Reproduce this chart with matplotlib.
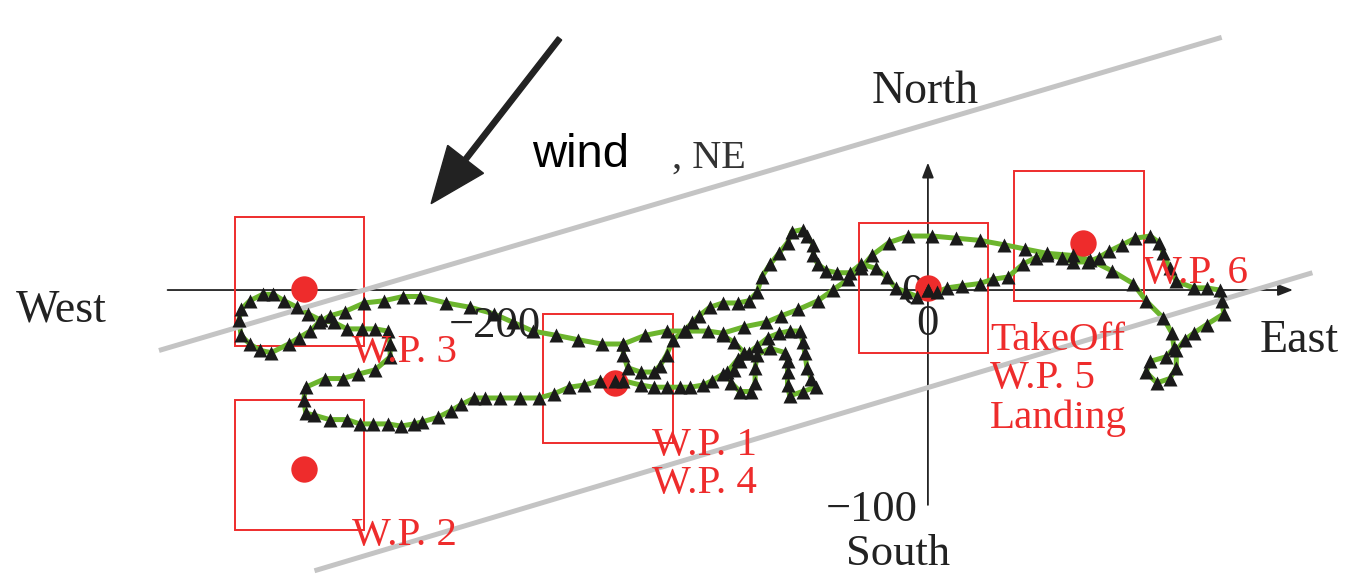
import numpy as np
import matplotlib
matplotlib.use("Agg")
from matplotlib import pyplot as plt
from matplotlib.patches import Rectangle

# flight path (east, north)
takeoff_path = [(0, 0), (-5, -3), (-10, -1), (-15, 1), (-19, 6), (-24, 10), (-31, 12), (-36, 8),
                (-42, 8), (-47, 9), (-51, 12), (-53, 16), (-53, 21), (-56, 25), (-58, 28), (-63, 27),
                (-65, 22), (-69, 17), (-73, 12), (-77, 6), (-79, -1), (-83, -5), (-88, -6), (-95, -6),
                (-101, -8), (-106, -12), (-109, -15), (-113, -19), (-118, -23), (-121, -30),
                (-124, -35), (-127, -38), (-133, -38), (-139, -36), (-141, -30), (-141, -25)]

main_path = [(-95, -21), (-90, -24), (-85, -29), (-88, -32), (-93, -38), (-91, -43), (-87, -47),
             (-82, -47), (-80, -43), (-80, -36), (-79, -30), (-73, -27), (-66, -29), (-65, -33),
             (-65, -38), (-65, -44), (-64, -49), (-58, -47), (-52, -45), (-54, -41), (-56, -36),
             (-57, -29), (-58, -24), (-59, -19), (-64, -19), (-69, -20), (-74, -22), (-79, -26),
             (-83, -29), (-87, -33), (-90, -37), (-95, -39), (-100, -42), (-104, -44), (-110, -45),
             (-115, -45), (-121, -45), (-127, -45), (-133, -44), (-141, -42),
             (-145, -42), (-152, -42), (-159, -44), (-166, -45), (-173, -48), (-180, -50),
             (-189, -50), (-198, -50), (-205, -50), (-210, -50), (-216, -53), (-221, -56),
             (-227, -59), (-234, -61), (-238, -62), (-244, -63), (-250, -62), (-257, -62),
             (-263, -62), (-269, -60), (-277, -60), (-284, -58), (-288, -57), (-289, -51),
             (-288, -45), (-279, -41), (-271, -41), (-264, -39), (-256, -37), (-249, -31),
             (-249, -25), (-250, -19), (-256, -18), (-262, -18), (-269, -18), (-275, -15),
             (-281, -14), (-287, -11), (-292, -8), (-298, -5), (-303, -2), (-308, -2), (-314, -5),
             (-318, -9), (-319, -14), (-318, -21), (-314, -25), (-309, -28), (-304, -29),
             (-296, -25), (-291, -22), (-286, -19), (-282, -15), (-277, -12), (-270, -10),
             (-261, -6), (-252, -5), (-243, -3), (-235, -3), (-223, -6), (-212, -8), (-201, -11),
             (-192, -15), (-183, -19), (-172, -21), (-162, -23), (-151, -25), (-141, -25),
             (-131, -21), (-121, -19), (-112, -19), (-102, -19), (-95, -20), (-85, -17), (-75, -15),
             (-68, -12), (-60, -9), (-51, -5), (-44, 0), (-37, 5), (-31, 10), (-26, 16), (-18, 22),
             (-9, 25), (2, 25), (13, 24), (24, 23), (35, 21), (45, 19), (55, 17), (67, 16), (75, 14),
             (85, 9), (95, 3), (101, -5), (109, -13), (113, -20), (114, -27), (110, -31), (103, -33),
             (101, -38), (106, -43), (112, -41), (115, -36), (115, -28), (119, -23), (123, -20),
             (129, -16), (137, -11), (136, -5), (135, 0), (129, 1), (123, 1), (115, 4), (112, 10),
             (109, 17), (107, 22), (103, 25), (96, 24), (90, 21), (84, 18), (79, 15), (74, 13),
             (67, 13), (62, 15), (55, 16), (50, 15), (44, 12), (37, 6), (30, 5), (24, 3), (16, 2),
             (9, 1), (4, -1), (0, 0)]

# waypoints
wp_east = [-145, -289, -289, 0, 72]
wp_north = [-43, -83, 0.5, 1, 22]
box_east = [-148, -291, -291, -2, 70]
box_north = [-41, -81, 4, 1, 25]
box_size = 60

# corridor lines (east, north endpoints)
corridor_upper = [(-356, -28), (136, 117)]
corridor_lower = [(-284, -130), (178, 8)]

red = "#ee2c2c"
green = "#6cb52d"
serif = ["Liberation Serif", "DejaVu Serif"]

fig = plt.figure(figsize=(13.45, 5.74), dpi=100)
ax = fig.add_axes([0, 0, 1, 1])
ax.set_xlim(-429.6, 193.1)
ax.set_ylim(-131.5, 134.3)
ax.axis("off")

# gray corridor
for seg in (corridor_upper, corridor_lower):
    s = np.array(seg)
    ax.plot(s[:, 0], s[:, 1], color="#c4c4c4", lw=3.6, zorder=4, solid_capstyle="butt")

# axes with arrows
ax.annotate("", xy=(169, 0), xytext=(-352, 0),
            arrowprops=dict(arrowstyle="-|>,head_length=0.9,head_width=0.35", color="#222222",
                            lw=1.3, shrinkA=0, shrinkB=0), zorder=2)
ax.annotate("", xy=(0, 59), xytext=(0, -99.5),
            arrowprops=dict(arrowstyle="-|>,head_length=0.9,head_width=0.35", color="#222222",
                            lw=1.3, shrinkA=0, shrinkB=0), zorder=2)

# waypoint boxes
for e, n in zip(box_east, box_north):
    ax.add_patch(Rectangle((e - box_size / 2, n - box_size / 2), box_size, box_size,
                           fill=False, edgecolor=red, lw=1.4, zorder=3))
ax.plot(wp_east, wp_north, "o", color=red, ms=19, zorder=5, mec="none")

# flight path
for path in (takeoff_path, main_path):
    p = np.array(path)
    ax.plot(p[:, 0], p[:, 1], color=green, lw=3.6, zorder=3, solid_joinstyle="round")
    ax.plot(p[:, 0], p[:, 1], "^", color="#1a1a1a", ms=9.5, zorder=6, mec="none")

# wind arrow
ax.arrow(-170.5, 116.5, -59.5, -76.5, width=2.4, head_width=21, head_length=26,
         length_includes_head=True, color="#222222", zorder=6)
ax.add_patch(Rectangle((-193.5, 45.5), 75, 38, facecolor="white", edgecolor="none", zorder=7))
ax.text(-160.6, 56.9, "wind", fontsize=34, family=["Liberation Sans", "DejaVu Sans"],
        ha="center", va="baseline", color="black", zorder=8)
ax.text(-118.5, 56.5, ", NE", fontsize=29, family=serif, ha="left", va="baseline",
        color="#333333", zorder=8)

# compass / tick labels
blk = dict(family=serif, color="#222222", va="baseline")
ax.text(-1.4, 86.6, "North", fontsize=33, ha="center", **blk)
ax.text(-401, -14.8, "West", fontsize=33, ha="center", **blk)
ax.text(172, -28.7, "East", fontsize=33, ha="center", **blk)
ax.text(-13.9, -127.2, "South", fontsize=32, ha="center", **blk)
ax.text(-200.5, -21.8, "\u2212200", fontsize=32, ha="center", zorder=5, **blk)
ax.text(0, -20.8, "0", fontsize=32, ha="center", zorder=5, **blk)
ax.text(-7, -6.5, "0", fontsize=32, ha="center", zorder=4, **blk)
ax.text(-4.6, -107, "\u2212100", fontsize=32, ha="right", **blk)

# waypoint labels
lab = dict(family=serif, color=red, fontsize=29.5, ha="left", va="baseline", zorder=7)
ax.text(-266.7, -33.3, "W.P. 3", **lab)
ax.text(-266.7, -118, "W.P. 2", **lab)
ax.text(-127.8, -76.4, "W.P. 1", **lab)
ax.text(-127.8, -94, "W.P. 4", **lab)
ax.text(28.7, -27.8, "TakeOff", **lab)
ax.text(28.7, -45.4, "W.P. 5", **lab)
ax.text(28.7, -63.9, "Landing", **lab)
ax.text(99.5, 3.2, "W.P. 6", **lab)

fig.savefig("out.png", dpi=100)
